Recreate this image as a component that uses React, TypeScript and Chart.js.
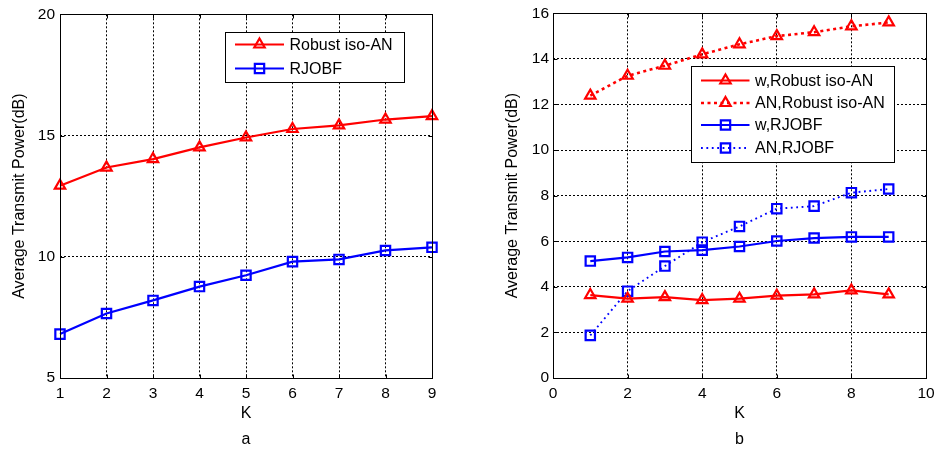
import React, { useEffect, useRef } from "react";
import { Chart, registerables } from "chart.js";

Chart.register(...registerables);

// ---------- data ----------
const K = [1, 2, 3, 4, 5, 6, 7, 8, 9];

// panel a
const aRobustIsoAN = [12.93, 13.68, 14.03, 14.51, 14.92, 15.27, 15.42, 15.66, 15.8];
const aRJOBF = [6.81, 7.66, 8.2, 8.77, 9.24, 9.8, 9.89, 10.26, 10.39];

// panel b
const bWRobust = [3.64, 3.48, 3.55, 3.42, 3.48, 3.61, 3.67, 3.84, 3.67];
const bANRobust = [12.39, 13.26, 13.7, 14.2, 14.64, 15.0, 15.17, 15.43, 15.6];
const bWRJOBF = [5.13, 5.29, 5.55, 5.61, 5.77, 6.01, 6.14, 6.19, 6.19];
const bANRJOBF = [1.87, 3.81, 4.91, 5.96, 6.65, 7.43, 7.54, 8.13, 8.29];

const aLabels = ["Robust iso-AN", "RJOBF"];
const bLabels = ["w,Robust iso-AN", "AN,Robust iso-AN", "w,RJOBF", "AN,RJOBF"];

const yTitle = "Average Transmit Power(dB)";
const xTitle = "K";
const aCaption = "a";
const bCaption = "b";

// ---------- styling ----------
const FONT = "'Liberation Sans', Arial, Helvetica, sans-serif";
const RED = "#ff0000";
const BLUE = "#0000ff";

type Style = {
  color: string;
  dash: number[];
  width: number;
  marker: "triangle" | "rect";
};

const redSolid: Style = { color: RED, dash: [], width: 2.2, marker: "triangle" };
const redDot: Style = { color: RED, dash: [3, 3.5], width: 2.6, marker: "triangle" };
const blueSolid: Style = { color: BLUE, dash: [], width: 2.2, marker: "rect" };
const blueDot: Style = { color: BLUE, dash: [1.8, 3.6], width: 1.9, marker: "rect" };

function toPoints(values: number[]) {
  return K.map((k, i) => ({ x: k, y: values[i] }));
}

function makeDataset(label: string, values: number[], s: Style) {
  return {
    label,
    data: toPoints(values),
    borderColor: s.color,
    borderWidth: s.width,
    borderDash: s.dash,
    borderCapStyle: "butt",
    pointStyle: s.marker,
    pointRadius: s.marker === "triangle" ? 6 : 6.6,
    pointBorderWidth: 2.2,
    pointBorderColor: s.color,
    pointBackgroundColor: "rgba(0,0,0,0)",
    pointHoverRadius: 6,
    fill: false,
    tension: 0,
    clip: false,
  };
}

function drawMarker(ctx: CanvasRenderingContext2D, kind: string, x: number, y: number, r: number) {
  ctx.beginPath();
  if (kind === "triangle") {
    ctx.moveTo(x, y - r);
    ctx.lineTo(x + 0.866 * r, y + 0.5 * r);
    ctx.lineTo(x - 0.866 * r, y + 0.5 * r);
    ctx.closePath();
  } else {
    const h = r * Math.SQRT1_2;
    ctx.rect(x - h, y - h, 2 * h, 2 * h);
  }
  ctx.stroke();
}

const framePlugin = {
  id: "frame",
  afterDatasetsDraw(chart: any) {
    const { ctx, chartArea: a, scales } = chart;
    ctx.save();
    ctx.strokeStyle = "#000";
    ctx.lineWidth = 1;
    ctx.setLineDash([]);
    const tl = 4;
    const L = Math.round(a.left) + 0.5;
    const R = Math.round(a.right) + 0.5;
    const T = Math.round(a.top) + 0.5;
    const B = Math.round(a.bottom) + 0.5;
    ctx.beginPath();
    scales.x.ticks.forEach((t: any) => {
      const px = Math.round(scales.x.getPixelForValue(t.value)) + 0.5;
      ctx.moveTo(px, B);
      ctx.lineTo(px, B - tl);
      ctx.moveTo(px, T);
      ctx.lineTo(px, T + tl);
    });
    scales.y.ticks.forEach((t: any) => {
      const py = Math.round(scales.y.getPixelForValue(t.value)) + 0.5;
      ctx.moveTo(L, py);
      ctx.lineTo(L + tl, py);
      ctx.moveTo(R, py);
      ctx.lineTo(R - tl, py);
    });
    ctx.stroke();
    ctx.strokeRect(L, T, R - L, B - T);
    ctx.restore();
  },
};

const boxLegendPlugin = {
  id: "boxLegend",
  afterDraw(chart: any, _args: any, opts: any) {
    const { ctx } = chart;
    const { box, lineX0, lineX1, markerX, textX, rowY, items } = opts;
    ctx.save();
    ctx.fillStyle = "#fff";
    ctx.fillRect(box.x, box.y, box.w, box.h);
    ctx.strokeStyle = "#000";
    ctx.lineWidth = 1;
    ctx.setLineDash([]);
    ctx.strokeRect(box.x + 0.5, box.y + 0.5, box.w, box.h);
    items.forEach((it: any, i: number) => {
      const y = rowY[i];
      const s: Style = it.style;
      ctx.strokeStyle = s.color;
      ctx.lineWidth = s.width;
      ctx.lineCap = "butt";
      ctx.setLineDash(s.dash);
      ctx.beginPath();
      ctx.moveTo(lineX0, y);
      ctx.lineTo(lineX1, y);
      ctx.stroke();
      ctx.setLineDash([]);
      ctx.lineWidth = 2.2;
      drawMarker(ctx, s.marker, markerX, y, s.marker === "triangle" ? 6 : 6.6);
      ctx.fillStyle = "#000";
      ctx.font = `16px ${FONT}`;
      ctx.textBaseline = "middle";
      ctx.textAlign = "left";
      ctx.fillText(it.label, textX, y + 1);
    });
    ctx.restore();
  },
};

function makeConfig(opts: {
  datasets: any[];
  xMin: number;
  xMax: number;
  xStep: number;
  yMin: number;
  yMax: number;
  yStep: number;
  yAxisWidth: number;
  yTitlePad: number;
  yTickPad: number;
  padRight: number;
  caption: string;
  legend: any;
}) {
  const tickFont = { family: FONT, size: 15.5 };
  return {
    type: "line",
    data: { datasets: opts.datasets },
    options: {
      responsive: false,
      animation: false,
      devicePixelRatio: 1,
      parsing: true,
      layout: { padding: { top: 10, right: opts.padRight, left: 0, bottom: 0 } },
      plugins: {
        legend: { display: false },
        tooltip: { enabled: false },
        boxLegend: opts.legend,
      },
      scales: {
        x: {
          type: "linear",
          min: opts.xMin,
          max: opts.xMax,
          ticks: { stepSize: opts.xStep, color: "#000", font: tickFont, padding: 6, maxRotation: 0 },
          grid: { color: "#000", lineWidth: 1, drawTicks: false },
          border: { display: false, dash: [2, 2] },
          title: {
            display: true,
            text: [xTitle, opts.caption],
            color: "#000",
            font: { family: FONT, size: 16, lineHeight: 1.625 },
            padding: { top: 0, bottom: 9.5 },
          },
          afterFit(scale: any) {
            scale.height = 84;
          },
        },
        y: {
          type: "linear",
          min: opts.yMin,
          max: opts.yMax,
          ticks: { stepSize: opts.yStep, color: "#000", font: tickFont, padding: opts.yTickPad },
          grid: { color: "#000", lineWidth: 1, drawTicks: false },
          border: { display: false, dash: [2, 2] },
          title: {
            display: true,
            text: yTitle,
            color: "#000",
            font: { family: FONT, size: 16, lineHeight: 1.2 },
            padding: { top: opts.yTitlePad, bottom: 0 },
          },
          afterFit(scale: any) {
            scale.width = opts.yAxisWidth;
          },
        },
      },
    },
    plugins: [framePlugin, boxLegendPlugin],
  };
}

function ChartCanvas({ config, left }: { config: any; left: number }) {
  const ref = useRef<HTMLCanvasElement | null>(null);
  useEffect(() => {
    if (!ref.current) return;
    const chart = new Chart(ref.current, config);
    return () => chart.destroy();
  }, [config]);
  return (
    <canvas
      ref={ref}
      width={474}
      height={462}
      style={{ position: "absolute", left, top: 0, width: 474, height: 462, display: "block" }}
    />
  );
}

const configA = makeConfig({
  datasets: [
    makeDataset(aLabels[0], aRobustIsoAN, redSolid),
    makeDataset(aLabels[1], aRJOBF, blueSolid),
  ],
  xMin: 1,
  xMax: 9,
  xStep: 1,
  yMin: 5,
  yMax: 20,
  yStep: 5,
  yAxisWidth: 60,
  yTitlePad: 9.8,
  yTickPad: 5,
  padRight: 42,
  caption: aCaption,
  legend: {
    box: { x: 225, y: 32, w: 179, h: 50 },
    lineX0: 235,
    lineX1: 284,
    markerX: 259.5,
    textX: 289.5,
    rowY: [44.5, 68.5],
    items: [
      { label: aLabels[0], style: redSolid },
      { label: aLabels[1], style: blueSolid },
    ],
  },
});

const configB = makeConfig({
  datasets: [
    makeDataset(bLabels[0], bWRobust, redSolid),
    makeDataset(bLabels[1], bANRobust, redDot),
    makeDataset(bLabels[2], bWRJOBF, blueSolid),
    makeDataset(bLabels[3], bANRJOBF, blueDot),
  ],
  xMin: 0,
  xMax: 10,
  xStep: 2,
  yMin: 0,
  yMax: 16,
  yStep: 2,
  yAxisWidth: 79,
  yTitlePad: 28.8,
  yTickPad: 4,
  padRight: 22,
  caption: bCaption,
  legend: {
    box: { x: 217, y: 66, w: 203, h: 96 },
    lineX0: 227,
    lineX1: 275.5,
    markerX: 251.5,
    textX: 281,
    rowY: [80.5, 103, 125, 148],
    items: [
      { label: bLabels[0], style: redSolid },
      { label: bLabels[1], style: redDot },
      { label: bLabels[2], style: blueSolid },
      { label: bLabels[3], style: blueDot },
    ],
  },
});

export default function App() {
  return (
    <div
      style={{
        position: "fixed",
        left: 0,
        top: 0,
        width: 948,
        height: 462,
        background: "#fff",
        overflow: "hidden",
      }}
    >
      <ChartCanvas config={configA} left={0} />
      <ChartCanvas config={configB} left={474} />
    </div>
  );
}
